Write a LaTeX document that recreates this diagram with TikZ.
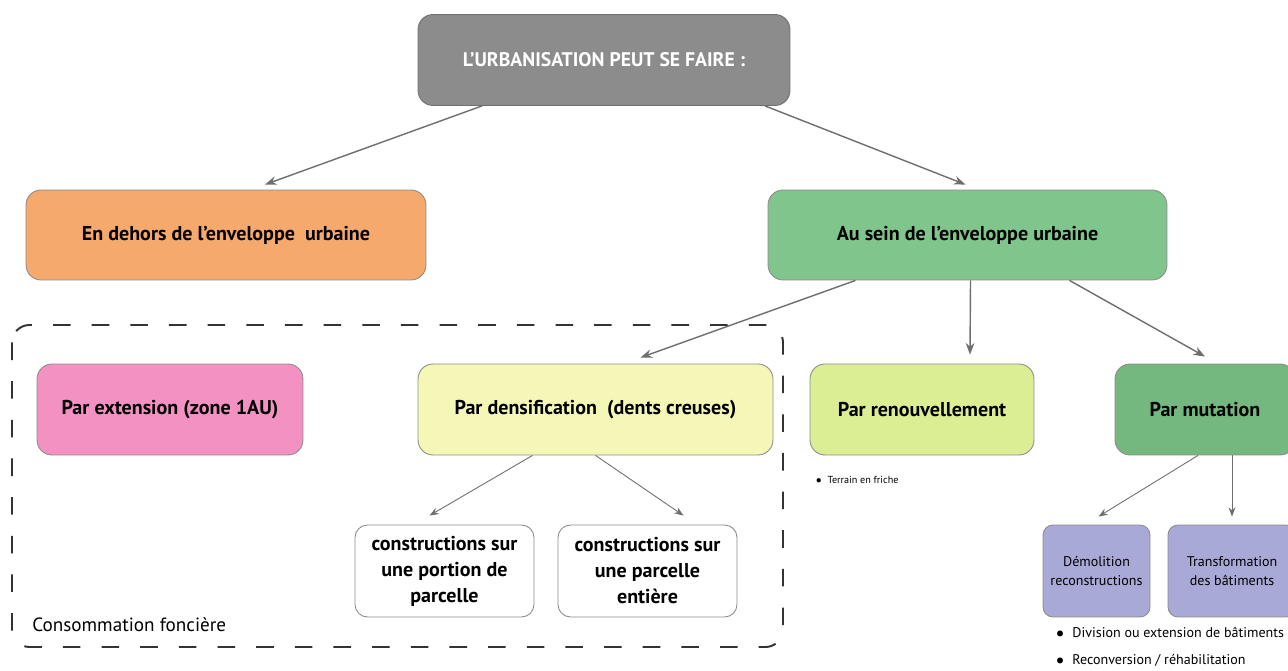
\documentclass[tikz,border=0pt]{standalone}
\usepackage{fontspec}
\usepackage{graphicx}
\setmainfont{PT Sans}
\usetikzlibrary{arrows.meta,calc}
\definecolor{topgray}{HTML}{8C8C8C}
\definecolor{orangebox}{HTML}{F5A96C}
\definecolor{greenbox}{HTML}{80C58C}
\definecolor{pinkbox}{HTML}{F392C2}
\definecolor{yellowbox}{HTML}{F5F7B6}
\definecolor{limebox}{HTML}{DCEE94}
\definecolor{mutgreen}{HTML}{74B880}
\definecolor{lavbox}{HTML}{A9A9D7}
\definecolor{arrgray}{HTML}{6E6E6E}
\newcommand{\bigdot}{\raisebox{-0.18em}{\scalebox{1.5}{\textbullet}}}
\begin{document}
\begin{tikzpicture}[x=0.02cm,y=-0.02cm,>=Stealth,
  every node/.style={font=\footnotesize},
  box/.style={draw=black!45,line width=0.5pt,rounded corners=0.3cm,align=center,font=\bfseries\fontsize{11.4}{14.8}\selectfont},
  small/.style={box,rounded corners=0.2cm,font=\fontsize{8}{10.5}\selectfont},
  arr/.style={->,draw=arrgray,line width=0.8pt},
  note/.style={anchor=west,inner sep=0pt}]
  \useasboundingbox (0,0) rectangle (1288,671);
  % boxes
  \node[box,fill=topgray,draw=topgray!80!black,text=white,minimum width=7.44cm,minimum height=1.82cm,font=\bfseries\fontsize{11.2}{13}\selectfont] (top) at (604,60) {L'URBANISATION PEUT SE FAIRE :};
  \node[box,fill=orangebox,minimum width=8cm,minimum height=1.8cm] (dehors) at (226,235) {En dehors de l'enveloppe\ \ urbaine};
  \node[box,fill=greenbox,minimum width=7.98cm,minimum height=1.8cm] (ausein) at (967.5,235) {Au sein de l'enveloppe urbaine};
  \node[box,fill=pinkbox,minimum width=5.32cm,minimum height=1.82cm] (ext) at (170,409.5) {Par extension (zone 1AU)};
  \node[box,fill=yellowbox,minimum width=7.1cm,minimum height=1.82cm] (dens) at (595.5,409.5) {Par densification\ \ (dents creuses)};
  \node[box,fill=limebox,minimum width=4.48cm,minimum height=1.82cm] (renouv) at (922,409.5) {Par renouvellement};
  \node[box,fill=mutgreen,minimum width=3.6cm,minimum height=1.82cm] (mut) at (1205,409.5) {Par mutation};
  \node[box,fill=white,rounded corners=0.25cm,minimum width=3.58cm,minimum height=1.84cm] (portion) at (444.5,571) {constructions sur\\une portion de\\parcelle};
  \node[box,fill=white,rounded corners=0.25cm,minimum width=3.58cm,minimum height=1.84cm] (entiere) at (647.5,571) {constructions sur\\une parcelle\\entière};
  \node[small,fill=lavbox,minimum width=2.14cm,minimum height=1.84cm] (demol) at (1096.5,571) {Démolition\\reconstructions};
  \node[small,fill=lavbox,minimum width=2.56cm,minimum height=1.84cm] (transf) at (1232,571) {Transformation\\des bâtiments};
  % connectors
  \draw[arr] ($(top.south)+(-122,0)$) -- ($(dehors.north)+(39,-5)$);
  \draw[arr] ($(top.south)+(161,0)$) -- ($(ausein.north)+(-2,-5)$);
  \draw[arr] ($(ausein.south)+(-112,0)$) -- ($(dens.north)+(45,-6)$);
  \draw[arr] ($(ausein.south)+(3,0)$) -- ($(renouv.north)+(48,-9)$);
  \draw[arr] ($(ausein.south)+(102,0)$) -- ($(mut.north)+(0,-7)$);
  \draw[arr,line width=0.5pt] ($(dens.south)+(-63,0)$) -- ($(portion.north)+(-15,-9)$);
  \draw[arr,line width=0.5pt] ($(dens.south)+(0,0)$) -- ($(entiere.north)+(36,-9)$);
  \draw[arr,line width=0.5pt] ($(mut.south)+(-7,0)$) -- ($(demol.north)+(2,-8)$);
  \draw[arr,line width=0.5pt] ($(mut.south)+(27,0)$) -- ($(transf.north)+(0,-8)$);
  % consommation fonciere
  \draw[black!80,line width=1.1pt,dash pattern=on 10pt off 12pt,rounded corners=0.35cm] (12,325) rectangle (783,647);
  \node[note,font=\fontsize{10.9}{13}\selectfont] (conso) at (32,625) {Consommation foncière};
  % notes
  \node[note,font=\fontsize{5.8}{7}\selectfont] (friche) at (815,481) {\bigdot\ \ Terrain en friche};
  \node[note,font=\fontsize{8}{10}\selectfont] (division) at (1055,634) {\bigdot\ \ Division ou extension de bâtiments};
  \node[note,font=\fontsize{8}{10}\selectfont] (reconv) at (1055,661) {\bigdot\ \ Reconversion / réhabilitation};
\end{tikzpicture}
\end{document}
